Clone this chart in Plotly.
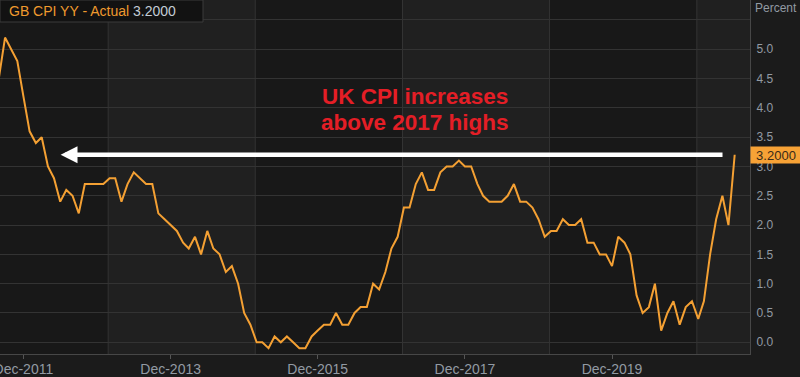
import pandas as pd
import plotly.graph_objects as go

# ---- data (UK CPI y/y, monthly, Jul-2011 .. Aug-2021) ----
start_month = "2011-07-01"
cpi_2011 = [4.4, 4.5, 5.2, 5.0, 4.8, 4.2]
cpi_2012 = [3.6, 3.4, 3.5, 3.0, 2.8, 2.4, 2.6, 2.5, 2.2, 2.7, 2.7, 2.7]
cpi_2013 = [2.7, 2.8, 2.8, 2.4, 2.7, 2.9, 2.8, 2.7, 2.7, 2.2, 2.1, 2.0]
cpi_2014 = [1.9, 1.7, 1.6, 1.8, 1.5, 1.9, 1.6, 1.5, 1.2, 1.3, 1.0, 0.5]
cpi_2015 = [0.3, 0.0, 0.0, -0.1, 0.1, 0.0, 0.1, 0.0, -0.1, -0.1, 0.1, 0.2]
cpi_2016 = [0.3, 0.3, 0.5, 0.3, 0.3, 0.5, 0.6, 0.6, 1.0, 0.9, 1.2, 1.6]
cpi_2017 = [1.8, 2.3, 2.3, 2.7, 2.9, 2.6, 2.6, 2.9, 3.0, 3.0, 3.1, 3.0]
cpi_2018 = [3.0, 2.7, 2.5, 2.4, 2.4, 2.4, 2.5, 2.7, 2.4, 2.4, 2.3, 2.1]
cpi_2019 = [1.8, 1.9, 1.9, 2.1, 2.0, 2.0, 2.1, 1.7, 1.7, 1.5, 1.5, 1.3]
cpi_2020 = [1.8, 1.7, 1.5, 0.8, 0.5, 0.6, 1.0, 0.2, 0.5, 0.7, 0.3, 0.6]
cpi_2021 = [0.7, 0.4, 0.7, 1.5, 2.1, 2.5, 2.0, 3.2]

values = (cpi_2011 + cpi_2012 + cpi_2013 + cpi_2014 + cpi_2015 + cpi_2016
          + cpi_2017 + cpi_2018 + cpi_2019 + cpi_2020 + cpi_2021)
dates = pd.date_range(start_month, periods=len(values), freq="MS")

x_tick_vals = ["2011-12-01", "2013-12-01", "2015-12-01", "2017-12-01", "2019-12-01"]
x_tick_text = ["Dec-2011", "Dec-2013", "Dec-2015", "Dec-2017", "Dec-2019"]
y_tick_vals = [0, 0.5, 1, 1.5, 2, 2.5, 3, 3.5, 4, 4.5, 5, 5.5]
y_tick_text = ["0.0", "0.5", "1.0", "1.5", "2.0", "2.5", "3.0", "3.5", "4.0", "4.5", "5.0", ""]
band_edges = ["2013-01-25", "2015-01-25", "2017-01-25", "2019-01-25", "2021-01-25"]
last_value = values[-1]

FONT = "Liberation Sans, Arial, sans-serif"
ORANGE = "#f4a033"
TICK = "#929aa3"
GRID = "#333333"

fig = go.Figure()
fig.add_trace(go.Scatter(x=dates, y=values, mode="lines",
                         line=dict(color=ORANGE, width=2), hoverinfo="skip"))

shapes = []
# alternating background bands
light_spans = [(band_edges[0], band_edges[1]), (band_edges[2], band_edges[3]),
               (band_edges[4], "2021-12-31")]
for a, b in light_spans:
    shapes.append(dict(type="rect", xref="x", yref="paper", x0=a, x1=b, y0=0, y1=1,
                       fillcolor="#202020", line=dict(width=0), layer="below"))
for e in band_edges:
    shapes.append(dict(type="line", xref="x", yref="paper", x0=e, x1=e, y0=0, y1=1,
                       line=dict(color=GRID, width=1), layer="below"))
# legend box
shapes.append(dict(type="rect", xref="paper", yref="paper", x0=0, x1=203 / 750,
                   y0=(354 - 22) / 354, y1=1.0, fillcolor="#121212",
                   line=dict(color="#3a3a3a", width=1), layer="above"))

annotations = [
    dict(xref="paper", yref="paper", x=7 / 750, y=(354 - 11) / 354, xanchor="left",
         yanchor="middle", showarrow=False,
         text=f"<span style='color:#ef9a2e'>GB CPI YY - Actual</span> "
              f"<span style='color:#c3ccd6'>{last_value:.4f}</span>",
         font=dict(family=FONT, size=14)),
    dict(xref="paper", yref="paper", x=753 / 750, y=(354 - 8) / 354, xanchor="left",
         yanchor="middle", showarrow=False, text="Percent",
         font=dict(family=FONT, size=12, color=TICK)),
    dict(xref="paper", yref="y", x=1.0, y=last_value, xanchor="left", yanchor="middle",
         showarrow=False, text=f"{last_value:.4f}", bgcolor="#f7a236", width=48,
         height=14, borderpad=1, align="center",
         font=dict(family=FONT, size=13, color="#3a2a18")),
    # arrow
    dict(xref="x", yref="y", x="2012-06-03", y=last_value, axref="x", ayref="y",
         ax="2021-06-09", ay=last_value, text="", showarrow=True, arrowhead=2,
         arrowsize=0.75, arrowwidth=4.5, arrowcolor="#ffffff", standoff=0),
    dict(xref="paper", yref="paper", x=415 / 750, y=(354 - 97) / 354, xanchor="center",
         yanchor="middle", showarrow=False, text="<b>UK CPI increases</b>",
         font=dict(family=FONT, size=22.5, color="#e41e26")),
    dict(xref="paper", yref="paper", x=415 / 750, y=(354 - 122) / 354, xanchor="center",
         yanchor="middle", showarrow=False, text="<b>above 2017 highs</b>",
         font=dict(family=FONT, size=22.5, color="#e41e26")),
]

fig.update_layout(
    width=800, height=377,
    margin=dict(l=0, r=50, t=0, b=23, pad=0, autoexpand=False),
    paper_bgcolor="#1b1b1b", plot_bgcolor="#181818",
    showlegend=False,
    shapes=shapes, annotations=annotations,
    font=dict(family=FONT, color=TICK),
    xaxis=dict(type="date", range=["2011-08-07", "2021-10-16"],
               tickvals=x_tick_vals, ticktext=x_tick_text,
               showgrid=False, zeroline=False, automargin=False,
               showline=True, linecolor="#474747", linewidth=1,
               ticks="outside", ticklen=4, tickcolor="#555555",
               ticklabelstandoff=-2, ticklabeloverflow="allow",
               tickfont=dict(family=FONT, size=14, color=TICK)),
    yaxis=dict(side="right", range=[-0.2, 5.841],
               tickvals=y_tick_vals, ticktext=y_tick_text,
               showgrid=True, gridcolor=GRID, gridwidth=1, zeroline=False,
               automargin=False, ticklabeloverflow="allow",
               showline=True, linecolor="#474747", linewidth=1,
               ticks="", ticklabelstandoff=3,
               tickfont=dict(family=FONT, size=12, color=TICK)),
)

fig.write_html("out.html",
               config={"displayModeBar": False},
               post_script="document.body.style.margin='0px';"
                           "document.body.style.background='#1b1b1b';")
